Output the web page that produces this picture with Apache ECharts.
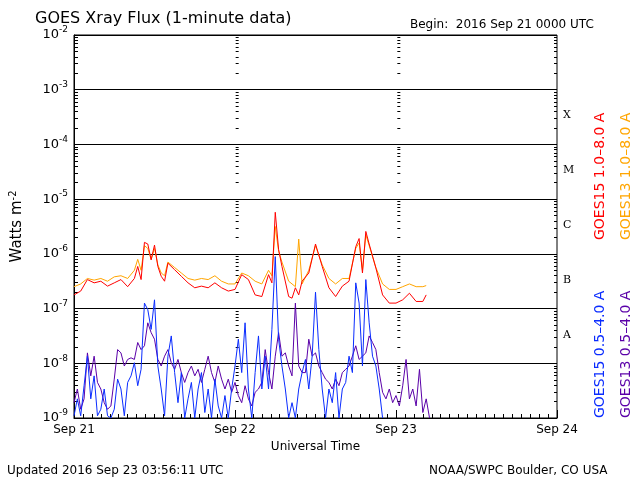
<!DOCTYPE html>
<html>
<head>
<meta charset="utf-8">
<script src="https://cdn.jsdelivr.net/npm/echarts@6/dist/echarts.min.js"></script>
<style>html,body{margin:0;padding:0;background:#fff}#chart{width:640px;height:480px}</style>
</head>
<body>
<div id="chart"></div>
<script>
// hours since 2016 Sep 21 00:00 UTC, values as log10(W/m2)
var longHours = [0,1,2,3,4,5,6,7,8,9,9.5,10,10.5,11,11.5,12,12.5,13,13.5,14,15,16,17,18,19,20,21,22,23,24,25,26,27,28,29,29.5,30,30.5,31,32,32.5,33,33.5,34,35,36,37,38,39,40,41,42,42.5,43,43.5,44,45,46,47,48,49,50,51,52,52.5];
var goes15Long = [-6.75,-6.68,-6.47,-6.53,-6.5,-6.59,-6.53,-6.47,-6.6,-6.45,
  -6.23,-6.47,-5.79,-5.82,-6.11,-5.84,-6.23,-6.41,-6.5,-6.17,
  -6.29,-6.41,-6.53,-6.62,-6.59,-6.62,-6.53,-6.62,-6.68,-6.65,-6.38,-6.47,-6.75,-6.78,-6.38,
  -6.53,-5.24,-5.92,-6.23,
  -6.78,-6.81,-6.62,-6.75,-6.5,
  -6.35,-5.82,-6.23,-6.62,-6.78,-6.59,-6.5,-5.87,
  -5.72,-6.35,-5.59,-5.82,
  -6.26,-6.75,-6.9,-6.9,-6.84,-6.72,-6.87,-6.87,-6.75];
var goes13Long = [-6.6,-6.55,-6.45,-6.48,-6.45,-6.5,-6.42,-6.4,-6.45,-6.3,
  -6.1,-6.3,-5.85,-5.9,-6.1,-5.9,-6.2,-6.35,-6.4,-6.15,
  -6.25,-6.35,-6.45,-6.48,-6.45,-6.47,-6.4,-6.5,-6.55,-6.55,-6.35,-6.4,-6.5,-6.55,-6.3,
  -6.4,-5.5,-5.95,-6.15,
  -6.5,-6.55,-6.6,-5.73,-6.55,
  -6.3,-5.85,-6.2,-6.45,-6.55,-6.45,-6.45,-5.9,
  -5.8,-6.3,-5.65,-5.85,
  -6.25,-6.55,-6.65,-6.65,-6.6,-6.55,-6.6,-6.6,-6.58];
// short channels, every half hour from 0
var goes15Short = [-8.96,-8.65,-8.96,-8.41,-7.87,-8.65,-8.23,-8.96,-8.84,-8.47,-8.96,-9.0,-8.84,-8.29,-8.47,-8.96,-8.35,-8.23,-7.99,-8.41,
  -8.11,-6.90,-7.02,-7.38,-6.84,-8.05,-8.47,-8.96,-7.87,-7.50,-8.17,-8.72,-8.17,-9.0,-8.65,-8.35,-9.0,-8.47,-8.17,-8.90,
  -8.47,-9.0,-8.29,-8.78,-9.0,-8.59,-9.0,-8.47,-8.05,-7.56,-8.17,-7.26,-8.47,-9.0,-8.17,-7.50,-8.47,-7.87,-8.47,-7.38,
  -6.05,-7.56,-8.05,-8.47,-9.0,-8.72,-9.0,-8.47,-8.17,-7.93,-8.47,-7.87,-6.7,-7.75,-8.47,-9.0,-8.47,-8.72,-8.17,-9.0,
  -8.47,-8.35,-7.87,-8.17,-6.53,-6.9,-8.05,-6.47,-7.26,-7.87,-8.05,-8.47,-9.0];
var goes13Short = [-8.72,-8.47,-8.84,-8.65,-7.81,-8.23,-7.87,-8.35,-8.47,-8.72,-8.84,-8.78,-8.29,-7.75,-7.81,-8.05,-7.93,-7.90,-7.93,-7.62,
  -7.75,-7.68,-7.26,-7.44,-7.56,-7.93,-8.05,-7.87,-7.75,-7.99,-8.11,-7.93,-8.17,-8.35,-8.17,-8.05,-8.23,-8.11,-8.35,-8.11,
  -7.87,-8.17,-8.35,-8.05,-8.29,-8.47,-8.29,-8.53,-8.35,-8.59,-8.72,-8.41,-8.65,-8.78,-8.53,-8.47,-8.35,-7.75,-8.17,-8.47,
  -7.87,-7.44,-7.87,-7.81,-8.05,-8.23,-6.90,-8.05,-8.17,-8.17,-7.56,-7.87,-7.81,-8.05,-8.17,-8.29,-8.35,-8.47,-8.29,-8.41,
  -8.17,-8.11,-8.05,-7.87,-7.68,-7.93,-7.87,-7.81,-7.50,-7.62,-7.75,-8.17,-8.53,-8.65,-8.47,-8.72,-8.59,-8.78,-8.41,-7.93,
  -8.65,-8.47,-8.78,-8.11,-8.90,-8.65,-9.0];
var dayLabels = ['Sep 21', 'Sep 22', 'Sep 23', 'Sep 24'];
var classLabels = ['X', 'M', 'C', 'B', 'A'];

function pairs(xs, es) {
  return es.map(function (e, i) { return [xs[i], Math.pow(10, e)]; });
}
function halfHourly(es) {
  return es.map(function (e, i) { return [i * 0.5, Math.pow(10, e)]; });
}

var font = 'DejaVu Sans';
var tickAxis = function (pos, offset) {
  return {
    type: 'log', min: 1e-9, max: 1e-2, position: pos, offset: offset,
    axisLine: { show: false },
    axisTick: { show: true, inside: true, length: 6, lineStyle: { color: '#000' } },
    minorTick: { show: true, splitNumber: 9, length: 3, lineStyle: { color: '#000' } },
    axisLabel: { show: false }, splitLine: { show: false }
  };
};

var chart = echarts.init(document.getElementById('chart'));
var gridW = 640 - 72 - 83;
var option = {
  backgroundColor: '#fff',
  animation: false,
  grid: { left: 72, right: 83, top: 35, bottom: 62, show: true, borderColor: '#000', borderWidth: 1 },
  title: [
    { text: 'GOES Xray Flux (1-minute data)', left: 30, top: 6, textStyle: { fontFamily: font, fontSize: 16, fontWeight: 'normal', color: '#000' } },
    { text: 'Begin:  2016 Sep 21 0000 UTC', left: 405, top: 14, textStyle: { fontFamily: font, fontSize: 12, fontWeight: 'normal', color: '#000' } },
    { text: 'Updated 2016 Sep 23 03:56:11 UTC', left: 2, top: 460, textStyle: { fontFamily: font, fontSize: 12, fontWeight: 'normal', color: '#000' } },
    { text: 'NOAA/SWPC Boulder, CO USA', left: 424, top: 460, textStyle: { fontFamily: font, fontSize: 12, fontWeight: 'normal', color: '#000' } }
  ],
  xAxis: [{
    type: 'value', min: 0, max: 72, interval: 24,
    name: 'Universal Time', nameLocation: 'middle', nameGap: 22,
    nameTextStyle: { fontFamily: font, fontSize: 12, color: '#000' },
    axisLine: { lineStyle: { color: '#000' } },
    axisTick: { inside: true, length: 8, lineStyle: { color: '#000' } },
    minorTick: { show: true, splitNumber: 18, length: 4, lineStyle: { color: '#000' } },
    splitLine: { show: false },
    axisLabel: { fontFamily: font, fontSize: 12, color: '#000', margin: 6,
      formatter: function (v) { return dayLabels[Math.round(v / 24)]; } }
  }],
  yAxis: [{
    type: 'log', min: 1e-9, max: 1e-2, position: 'left',
    name: 'Watts m{sup|-2}', nameLocation: 'middle', nameGap: 48, nameRotate: 90,
    nameTextStyle: { fontFamily: font, fontSize: 15, color: '#000', rich: { sup: { fontSize: 10, verticalAlign: 'top', padding: [0, 0, 8, 0] } } },
    axisLine: { show: true, lineStyle: { color: '#000' } },
    axisTick: { show: true, inside: true, length: 8, lineStyle: { color: '#000' } },
    minorTick: { show: true, splitNumber: 9, length: 4, lineStyle: { color: '#000' } },
    splitLine: { show: true, lineStyle: { color: '#000', width: 1 } },
    axisLabel: { fontFamily: font, fontSize: 13, color: '#000', margin: 6,
      formatter: function (v) { return '10{s|' + Math.round(Math.log10(v)) + '}'; },
      rich: { s: { fontSize: 9, verticalAlign: 'top', padding: [0, 0, 10, 0] } } }
  },
  tickAxis('right', 0),
  tickAxis('left', -gridW / 3),
  tickAxis('left', -gridW * 2 / 3)
  ],
  series: [
    { name: 'GOES13 0.5-4.0 A', type: 'line', data: halfHourly(goes13Short), showSymbol: false, lineStyle: { color: '#5a00a8', width: 1 } },
    { name: 'GOES15 0.5-4.0 A', type: 'line', data: halfHourly(goes15Short), showSymbol: false, lineStyle: { color: '#0a2cff', width: 1 } },
    { name: 'GOES13 1.0-8.0 A', type: 'line', data: pairs(longHours, goes13Long), showSymbol: false, lineStyle: { color: '#ffa500', width: 1 } },
    { name: 'GOES15 1.0-8.0 A', type: 'line', data: pairs(longHours, goes15Long), showSymbol: false, lineStyle: { color: '#ff0000', width: 1 } }
  ],
  graphic: classLabels.map(function (c, i) {
    return { type: 'text', left: 563, top: 110 + i * 54.8, style: { text: c, font: '11px "DejaVu Serif"', fill: '#000' } };
  }).concat([
    { type: 'text', x: 600, y: 240, rotation: Math.PI / 2, style: { text: 'GOES15 1.0\u20138.0 A', font: '14px "DejaVu Sans"', fill: '#ff0000', align: 'left', verticalAlign: 'middle' } },
    { type: 'text', x: 626, y: 240, rotation: Math.PI / 2, style: { text: 'GOES13 1.0\u20138.0 A', font: '14px "DejaVu Sans"', fill: '#ffa500', align: 'left', verticalAlign: 'middle' } },
    { type: 'text', x: 600, y: 418, rotation: Math.PI / 2, style: { text: 'GOES15 0.5\u20134.0 A', font: '14px "DejaVu Sans"', fill: '#0a2cff', align: 'left', verticalAlign: 'middle' } },
    { type: 'text', x: 626, y: 418, rotation: Math.PI / 2, style: { text: 'GOES13 0.5\u20134.0 A', font: '14px "DejaVu Sans"', fill: '#5a00a8', align: 'left', verticalAlign: 'middle' } }
  ])
};
chart.setOption(option);
</script>
</body>
</html>
